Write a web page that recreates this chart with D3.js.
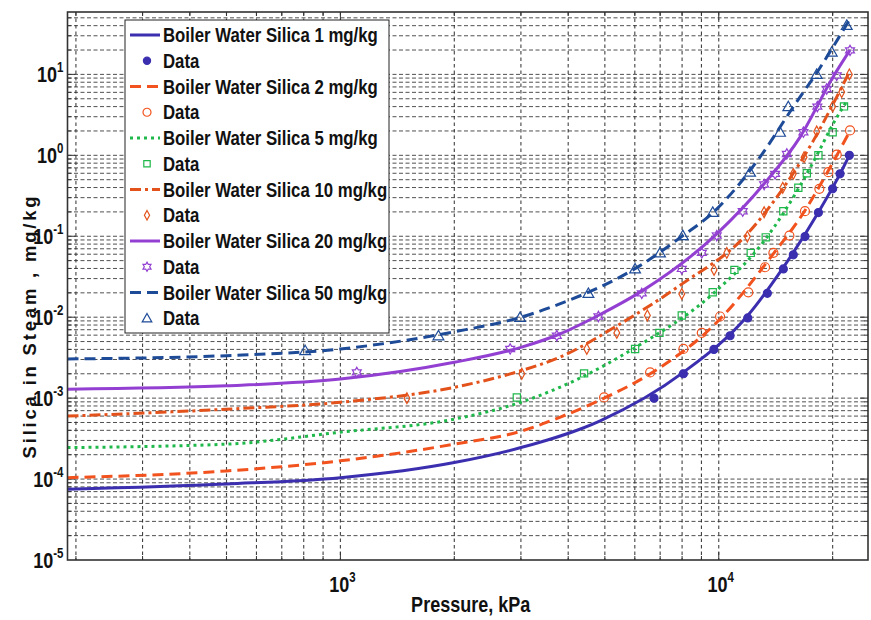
<!DOCTYPE html>
<html>
<head>
<meta charset="utf-8">
<script src="https://cdn.jsdelivr.net/npm/d3@7"></script>
<style>
    body { margin: 0; background: #fff; }
    svg { display: block; }
    text { font-family: "Liberation Sans", Arial, sans-serif; font-weight: bold; fill: #111; }
</style>
</head>
<body>
<svg id="drawing_region"></svg>
<script>
// values: [pressure kPa, silica in steam mg/kg]
const curve_1  = [[190,7.5e-5],[500,8.7e-5],[1000,1.04e-4],[2000,1.6e-4],[3000,2.45e-4],[4860,5.25e-4],[8060,2.08e-3],[11930,0.0105],[14800,0.041],[18340,0.198],[20920,0.59],[22140,1.0]];
const curve_2  = [[190,1.04e-4],[500,1.26e-4],[1000,1.68e-4],[2000,2.7e-4],[3000,3.9e-4],[3800,5.8e-4],[4980,1.0e-3],[6590,2.0e-3],[10080,9.5e-3],[13950,0.061],[16900,0.208],[19490,0.65],[22230,2.0]];
const curve_5  = [[190,2.45e-4],[500,2.7e-4],[1000,3.8e-4],[2000,5.5e-4],[3000,8.9e-4],[3800,1.36e-3],[6010,4.2e-3],[9640,0.0194],[13310,0.093],[16230,0.386],[18340,1.09],[20050,2.45],[21700,4.5]];
const curve_10 = [[190,6.0e-4],[500,7.3e-4],[1000,8.9e-4],[2000,1.36e-3],[3000,2.18e-3],[3800,3.2e-3],[5400,7.9e-3],[8000,0.0258],[11900,0.107],[14760,0.386],[17800,1.53],[20050,4.3],[22140,10.7]];
const curve_20 = [[190,1.29e-3],[500,1.42e-3],[1000,1.72e-3],[2000,2.77e-3],[3000,4.24e-3],[3800,6.2e-3],[4800,0.0105],[6260,0.021],[9880,0.107],[13180,0.445],[16400,1.68],[20050,9.3],[22230,20]];
const curve_50 = [[190,3.05e-3],[500,3.35e-3],[1000,4.05e-3],[2000,6.6e-3],[3000,0.01],[3800,0.0146],[6070,0.041],[8000,0.1],[9700,0.2],[12850,0.95],[15700,3.9],[18500,12],[22260,49]];

const data_1  = [[6745,1.0e-3],[8064,2.0e-3],[9705,4.0e-3],[10713,5.9e-3],[11931,9.8e-3],[13441,0.0197],[14815,0.0395],[15740,0.059],[16905,0.099],[18340,0.196],[20000,0.386],[20920,0.59],[22140,1.0]];
const data_2  = [[4977,1.02e-3],[6585,2.08e-3],[8064,4.05e-3],[9019,6.4e-3],[10080,0.0102],[11970,0.0203],[13255,0.0414],[13945,0.0623],[15370,0.102],[16900,0.204],[18445,0.386],[19485,0.62],[20500,1.02],[22230,2.03]];
const data_5  = [[2926,1.02e-3],[4406,2.02e-3],[6010,4.05e-3],[6970,6.4e-3],[7985,0.0105],[9640,0.0203],[11000,0.0384],[12150,0.0623],[13310,0.097],[14815,0.204],[16230,0.397],[17090,0.6],[18340,1.0],[20000,1.93],[21430,4.02]];
const data_10 = [[1499,1.0e-3],[3016,2.0e-3],[4480,4.05e-3],[5377,6.4e-3],[6477,0.0105],[7985,0.0194],[9718,0.0384],[10500,0.0623],[11900,0.099],[13180,0.198],[14760,0.397],[15740,0.59],[16810,0.95],[18150,1.97],[20000,4.0],[21130,6.04],[22140,10]];
const data_20 = [[1105,2.08e-3],[2810,4.05e-3],[3733,5.9e-3],[4808,0.0102],[6260,0.0197],[7985,0.0395],[9020,0.0623],[9880,0.102],[11570,0.204],[13180,0.436],[14090,0.59],[15135,1.04],[16740,1.93],[18220,4.0],[19290,6.6],[20500,9.7],[22230,19.8]];
const data_50 = [[807,3.86e-3],[1816,5.9e-3],[2985,0.00995],[4524,0.0197],[6010,0.0395],[6995,0.0623],[8035,0.102],[9640,0.198],[12100,0.62],[14520,1.93],[15270,4.0],[18150,10],[19890,18.9],[21790,40.4]];

const seriesLabels = [
    "Boiler Water Silica 1 mg/kg",
    "Boiler Water Silica 2 mg/kg",
    "Boiler Water Silica 5 mg/kg",
    "Boiler Water Silica 10 mg/kg",
    "Boiler Water Silica 20 mg/kg",
    "Boiler Water Silica 50 mg/kg"
];
const dataLabel = "Data";
const xTickExps = [3, 4];
const yTickExps = [1, 0, -1, -2, -3, -4, -5];
const xTitle = "Pressure, kPa";
const yTitle = "Silica in Steam , mg/kg";

const curves = [curve_1, curve_2, curve_5, curve_10, curve_20, curve_50];
const points = [data_1, data_2, data_5, data_10, data_20, data_50];

// styles per series (MATLAB-like)
const styles = [
    {color: '#3b2fb0', dash: null,          marker: 'dot'},
    {color: '#f2521d', dash: '11,6',        marker: 'circle'},
    {color: '#1fb84a', dash: '3,4',         marker: 'square'},
    {color: '#e4521c', dash: '11,4,3,4',    marker: 'diamond'},
    {color: '#9340d2', dash: null,          marker: 'hexagram'},
    {color: '#1e4b98', dash: '11,6',        marker: 'triangle'}
];

const markerPath = {
    dot: r => { const p = d3.path(); p.arc(0, 0, r, 0, 2 * Math.PI); return p.toString(); },
    circle: r => { const p = d3.path(); p.arc(0, 0, r, 0, 2 * Math.PI); return p.toString(); },
    square: r => { const s = r * 0.8; return `M${-s},${-s}H${s}V${s}H${-s}Z`; },
    diamond: r => { const h = r * 1.2, w = r * 0.65; return `M0,${-h}L${w},0L0,${h}L${-w},0Z`; },
    hexagram: r => {
        const p = d3.path();
        for (let i = 0; i < 12; i++) {
            const a = -Math.PI / 2 + i * Math.PI / 6;
            const rr = (i % 2 === 0) ? r * 1.15 : r * 0.66;
            if (i === 0) p.moveTo(rr * Math.cos(a), rr * Math.sin(a));
            else p.lineTo(rr * Math.cos(a), rr * Math.sin(a));
        }
        p.closePath();
        return p.toString();
    },
    triangle: r => { const h = r * 1.2; return `M0,${-h}L${h},${h * 0.75}L${-h},${h * 0.75}Z`; }
};

// condensed bold text: Liberation Sans squeezed horizontally
function narrowText(parent, x, y, size, anchor, sx) {
    return parent.append('g')
        .attr('transform', `translate(${x},${y}) scale(${sx || 0.82},1)`)
        .append('text')
        .attr('font-size', size)
        .attr('text-anchor', anchor || 'start');
}

class SilicaChart {
    constructor(config) {
        this.config = config;
        this.init();
    }

    init() {
        let self = this;
        self.svg = d3.select(self.config.parent)
            .attr('width', self.config.width)
            .attr('height', self.config.height);

        const m = self.config.plot;
        self.xscale = d3.scaleLog().domain([190, 24800]).range([m.left, m.right]);
        self.yscale = d3.scaleLog().domain([1e-5, 59]).range([m.bottom, m.top]);

        self.line = d3.line()
            .x(d => self.xscale(d[0]))
            .y(d => self.yscale(d[1]))
            .curve(d3.curveMonotoneX);
    }

    render() {
        let self = this;
        const m = self.config.plot;
        const xs = self.xscale, ys = self.yscale;

        // grid
        const grid = self.svg.append('g');
        const xGrid = [];
        for (let e = 2; e <= 4; e++)
            for (let k = 1; k <= 9; k++) {
                const v = k * Math.pow(10, e);
                if (v > 190 && v < 24800) xGrid.push(v);
            }
        const yGrid = [];
        for (let e = -5; e <= 1; e++)
            for (let k = 1; k <= 9; k++) {
                const v = k * Math.pow(10, e);
                if (v > 1e-5 && v < 59) yGrid.push(v);
            }

        grid.selectAll('.hg').data(yGrid).join('line')
            .attr('x1', m.left).attr('x2', m.right)
            .attr('y1', d => ys(d)).attr('y2', d => ys(d))
            .attr('stroke', '#333').attr('stroke-width', 1)
            .attr('stroke-dasharray', '4,2.5').attr('opacity', 0.85);

        grid.selectAll('.vg').data(xGrid).join('line')
            .attr('y1', m.top).attr('y2', m.bottom)
            .attr('x1', d => xs(d)).attr('x2', d => xs(d))
            .attr('stroke', '#222').attr('stroke-width', 1.1)
            .attr('stroke-dasharray', '3.5,3').attr('opacity', 0.85);

        // inner ticks on all sides
        const isMajor = v => Math.abs(Math.log10(v) - Math.round(Math.log10(v))) < 1e-9;
        const ticks = self.svg.append('g').attr('stroke', '#333').attr('stroke-width', 1);
        xGrid.forEach(v => {
            const len = isMajor(v) ? 8 : 4;
            ticks.append('line').attr('x1', xs(v)).attr('x2', xs(v)).attr('y1', m.bottom).attr('y2', m.bottom - len);
            ticks.append('line').attr('x1', xs(v)).attr('x2', xs(v)).attr('y1', m.top).attr('y2', m.top + len);
        });
        yGrid.forEach(v => {
            const len = isMajor(v) ? 8 : 4;
            ticks.append('line').attr('y1', ys(v)).attr('y2', ys(v)).attr('x1', m.left).attr('x2', m.left + len);
            ticks.append('line').attr('y1', ys(v)).attr('y2', ys(v)).attr('x1', m.right).attr('x2', m.right - len);
        });

        // curves
        curves.forEach((c, i) => {
            self.svg.append('path')
                .attr('d', self.line(c))
                .attr('fill', 'none')
                .attr('stroke', styles[i].color)
                .attr('stroke-width', 3)
                .attr('stroke-dasharray', styles[i].dash);
        });

        // data markers
        points.forEach((pts, i) => {
            const st = styles[i];
            self.svg.append('g').selectAll('path').data(pts).join('path')
                .attr('transform', d => `translate(${xs(d[0])},${ys(d[1])})`)
                .attr('d', markerPath[st.marker](st.marker === 'dot' ? 4 : 4.5))
                .attr('fill', st.marker === 'dot' ? st.color : 'none')
                .attr('stroke', st.color)
                .attr('stroke-width', 1.2);
        });

        // frame
        self.svg.append('rect')
            .attr('x', m.left).attr('y', m.top)
            .attr('width', m.right - m.left).attr('height', m.bottom - m.top)
            .attr('fill', 'none').attr('stroke', '#333').attr('stroke-width', 1.6);

        // tick labels
        xTickExps.forEach(e => {
            const t = narrowText(self.svg, xs(Math.pow(10, e)) + 2, m.bottom + 32, 22, 'middle');
            t.append('tspan').text('10');
            t.append('tspan').attr('dy', -10).attr('font-size', 14).text(e);
        });
        yTickExps.forEach(e => {
            const t = narrowText(self.svg, m.left - 4, ys(Math.pow(10, e)) + 7.5, 22, 'end');
            t.append('tspan').text('10');
            t.append('tspan').attr('dy', -10).attr('font-size', 14).text(e);
        });

        // axis titles
        narrowText(self.svg, (m.left + m.right) / 2 + 3, 612, 22, 'middle').text(xTitle);

        self.svg.append('text')
            .attr('transform', `translate(36, 326) rotate(-90)`)
            .attr('text-anchor', 'middle')
            .attr('font-size', 18.5)
            .attr('letter-spacing', 2.8)
            .text(yTitle);

        // legend
        const lg = self.config.legend;
        const legend = self.svg.append('g');
        legend.append('rect')
            .attr('x', lg.x).attr('y', lg.y).attr('width', lg.w).attr('height', lg.h)
            .attr('fill', '#fff').attr('stroke', '#222').attr('stroke-width', 1);

        seriesLabels.forEach((label, i) => {
            const st = styles[i];
            const yl = lg.row0 + (2 * i) * lg.step;
            const yd = lg.row0 + (2 * i + 1) * lg.step;
            legend.append('line')
                .attr('x1', lg.x + 5).attr('x2', lg.x + 35)
                .attr('y1', yl).attr('y2', yl)
                .attr('stroke', st.color).attr('stroke-width', 3)
                .attr('stroke-dasharray', st.dash);
            narrowText(legend, lg.x + 38, yl + 7, 20, 'start', 0.84).text(label);
            legend.append('path')
                .attr('transform', `translate(${lg.x + 22},${yd})`)
                .attr('d', markerPath[st.marker](st.marker === 'dot' ? 3.6 : 4))
                .attr('fill', st.marker === 'dot' ? st.color : 'none')
                .attr('stroke', st.color).attr('stroke-width', 1.2);
            narrowText(legend, lg.x + 38, yd + 7, 20, 'start', 0.84).text(dataLabel);
        });
    }
}

const chart = new SilicaChart({
    parent: '#drawing_region',
    width: 871,
    height: 620,
    plot: {left: 67.5, right: 868, top: 12, bottom: 560},
    legend: {x: 125, y: 20, w: 264, h: 313, row0: 35, step: 25.75}
});
chart.render();
</script>
</body>
</html>
